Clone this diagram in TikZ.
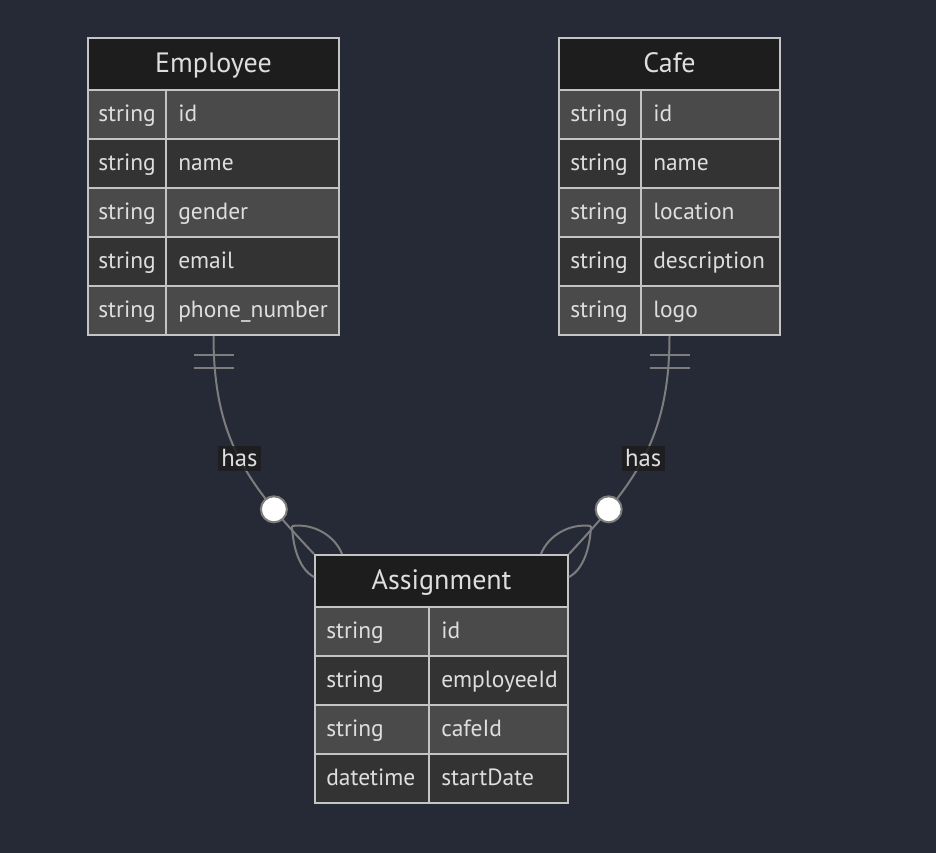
\documentclass[tikz,border=0pt]{standalone}
\usepackage{fontspec}
\setmainfont{PT Sans}
\usepackage{tikz}
\usetikzlibrary{positioning,calc,fit}
\definecolor{canvas}{RGB}{38,42,54}
\definecolor{hdrfill}{RGB}{29,29,29}
\definecolor{rowA}{RGB}{74,74,74}
\definecolor{rowB}{RGB}{51,51,51}
\definecolor{rule}{RGB}{196,196,196}
\definecolor{ink}{RGB}{222,222,222}
\definecolor{edgegray}{RGB}{125,125,125}
\tikzset{
  title/.style={font=\fontsize{21}{24}\selectfont, text=ink, anchor=base, inner sep=0pt},
  cell/.style={font=\fontsize{17.6}{20}\selectfont, text=ink, anchor=base west, inner sep=0pt},
  frame/.style={draw=rule, line width=1.5pt, inner sep=0pt},
  sep/.style={rule, line width=1.5pt},
  rel/.style={draw=edgegray, line width=1.5pt},
  lbl/.style={fill=hdrfill, fill opacity=0.85, text opacity=1, text=ink,
    font=\fontsize{18.5}{21}\selectfont, inner sep=2.5pt},
  zero/.style={circle, draw=edgegray, fill=white, line width=1.5pt,
    minimum size=19.5pt, inner sep=0pt}
}
\begin{document}
\begin{tikzpicture}[x=0.75pt,y=-0.75pt]
\fill[canvas] (0,0) rectangle (936,853);
% Employee
\fill[hdrfill] (88,38) rectangle (339,90);
\foreach \c/\t/\f [count=\i from 0] in {
rowA/string/id,rowB/string/name,rowA/string/gender,rowB/string/email,rowA/string/phone\_number}{
\fill[\c] (88,90+49*\i) rectangle (339,139+49*\i);
\draw[sep] (88,90+49*\i) -- (339,90+49*\i);
\node[cell] (emp-t\i) at (98,121+49*\i) {\t};
\node[cell] (emp-f\i) at (178,121+49*\i) {\f};
}
\draw[sep] (166,90) -- (166,335);
\node[frame,fit={(88,38) (339,335)}] (emp) {};
\node[title] (emp-h) at (213.5,72) {Employee};
% Cafe
\fill[hdrfill] (559,38) rectangle (780,90);
\foreach \c/\t/\f [count=\i from 0] in {
rowA/string/id,rowB/string/name,rowA/string/location,rowB/string/description,rowA/string/logo}{
\fill[\c] (559,90+49*\i) rectangle (780,139+49*\i);
\draw[sep] (559,90+49*\i) -- (780,90+49*\i);
\node[cell] (cafe-t\i) at (570,121+49*\i) {\t};
\node[cell] (cafe-f\i) at (653,121+49*\i) {\f};
}
\draw[sep] (641,90) -- (641,335);
\node[frame,fit={(559,38) (780,335)}] (cafe) {};
\node[title] (cafe-h) at (669.5,72) {Cafe};
% Assignment
\fill[hdrfill] (315,555) rectangle (568,607);
\foreach \c/\t/\f [count=\i from 0] in {
rowA/string/id,rowB/string/employeeId,rowA/string/cafeId,rowB/datetime/startDate}{
\fill[\c] (315,607+49*\i) rectangle (568,656+49*\i);
\draw[sep] (315,607+49*\i) -- (568,607+49*\i);
\node[cell] (asg-t\i) at (326,638+49*\i) {\t};
\node[cell] (asg-f\i) at (441,638+49*\i) {\f};
}
\draw[sep] (429,607) -- (429,803);
\node[frame,fit={(315,555) (568,803)}] (asg) {};
\node[title] (asg-h) at (441.5,589) {Assignment};
% Employee ||--o{ Assignment
\draw[rel] ($(emp.south)+(-20,19)$) -- ($(emp.south)+(20,19)$);
\draw[rel] ($(emp.south)+(-20,32)$) -- ($(emp.south)+(20,32)$);
\coordinate (fork1) at ($(asg.north west)+(-22,-28)$);
\draw[rel] (fork1) .. controls ($(asg.north west)+(0,-31)$) and ($(asg.north west)+(21,-18)$) .. ($(asg.north west)+(28,0)$);
\draw[rel] (fork1) .. controls ($(asg.north west)+(-21,-7)$) and ($(asg.north west)+(-15,15)$) .. ($(asg.north west)+(0,23)$);
\draw[rel] (emp.south) .. controls ($(emp.south)+(0,105)$) and ($(asg.north west)+(-65,-69)$) .. (asg.north west)
  node[lbl,pos=0.5] (has1) {has} node[zero,pos=0.77] (z1) {};
% Cafe ||--o{ Assignment
\draw[rel] ($(cafe.south)+(-20,19)$) -- ($(cafe.south)+(20,19)$);
\draw[rel] ($(cafe.south)+(-20,32)$) -- ($(cafe.south)+(20,32)$);
\coordinate (fork2) at ($(asg.north east)+(22,-28)$);
\draw[rel] (fork2) .. controls ($(asg.north east)+(0,-31)$) and ($(asg.north east)+(-21,-18)$) .. ($(asg.north east)+(-28,0)$);
\draw[rel] (fork2) .. controls ($(asg.north east)+(21,-7)$) and ($(asg.north east)+(15,15)$) .. ($(asg.north east)+(0,23)$);
\draw[rel] (cafe.south) .. controls ($(cafe.south)+(0,105)$) and ($(asg.north east)+(64,-69)$) .. (asg.north east)
  node[lbl,pos=0.5] (has2) {has} node[zero,pos=0.77] (z2) {};
\end{tikzpicture}
\end{document}
